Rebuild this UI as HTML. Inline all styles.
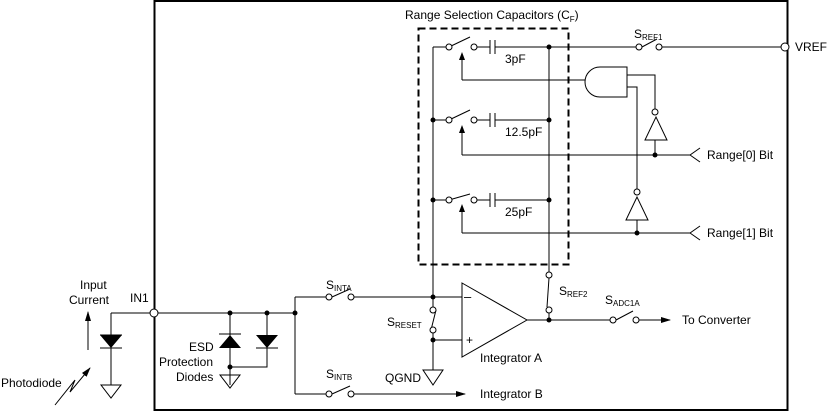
<!DOCTYPE html>
<html><head><meta charset="utf-8"><style>
body{margin:0;background:#fff}
svg{display:block}
text{font-family:"Liberation Sans",Arial,sans-serif;font-size:12px;fill:#000}
.s{font-size:8px}
</style></head><body>
<svg width="829" height="413" viewBox="0 0 829 413" xmlns="http://www.w3.org/2000/svg">
<defs><marker id="ar" markerWidth="10" markerHeight="8" refX="9" refY="4" orient="auto" markerUnits="userSpaceOnUse"><path d="M0,1 L10,4 L0,7 Z" fill="#000"/></marker></defs>
<g fill="none" stroke="#000">
<rect x="154.5" y="1" width="633" height="409" stroke-width="2"/>
<rect x="418.5" y="28.5" width="150" height="236" stroke-width="2" stroke-dasharray="7,4"/>
</g>
<g fill="none" stroke="#000" stroke-width="1">
<path d="M433,47 V297 M433,297 V310 M433,330 V370"/>
<path d="M549,47 V275 M549,310 V320"/>
<path d="M433,47 H446 M449,47 L470,37 M477,47 H490 M490,40 V54 M495,40 V54 M495,47 H549"/>
<path d="M433,120 H446 M449,120 L470,110 M477,120 H490 M490,113 V127 M495,113 V127 M495,120 H549"/>
<path d="M433,200 H446 M449,200 L470,194 M477,200 H490 M490,193 V207 M495,193 V207 M495,200 H549"/>
<path d="M462,80 V59 M462,80 H585"/>
<path d="M462,155 V132 M462,155 H690 L700,148 M690,155 L700,162"/>
<path d="M462,233 V211 M462,233 H690 L700,226 M690,233 L700,240"/>
<path d="M627,67 H600 A15,15 0 0 0 600,97 H627 Z"/>
<path d="M627,75 H655 V109 M627,87 H637 V189"/>
<path d="M655,140 V155 M637,220 V233"/>
<path d="M645,140 L667,140 L656,117 Z M626,220 L648,220 L637,197 Z"/>
<path d="M549,47 H636 M642,47 L657,39 M662,47 H781"/>
<path d="M111,313 H150 M158,313 H295 M111,313 V385 M230,313 V385 M267,313 V367 H230 M295,313 V297 M295,313 V394"/>
<path d="M100,335 H122 M219,334 H241 M256,348 H278 M100,348 H122"/>
<path d="M101,385 H121 L111,398 Z M220,375 H240 L230,388 Z M423,370 H443 L433,385 Z"/>
<path d="M295,297 H326 M332,297 L350,289 M354,297 H462"/>
<path d="M295,394 H326 M332,394 L350,386 M354,394 H465" marker-end="url(#ar)"/>
<path d="M436,310 L431,330 M433,340 H462 M433,330 V340"/>
<path d="M462,283 L527,320 L462,357 Z"/>
<path d="M527,320 H610 M549,278 L547,307 M616,320 L633,311 M639,320 H670" marker-end="url(#ar)"/>
<path d="M88,350 V312" marker-end="url(#ar)"/>
<path d="M55,405 L75,380 L70,392 L90,368" marker-end="url(#ar)"/>
</g>
<g fill="#000">
<circle cx="433" cy="120" r="2.5"/><circle cx="433" cy="200" r="2.5"/><circle cx="549" cy="47" r="2.5"/><circle cx="549" cy="120" r="2.5"/><circle cx="549" cy="200" r="2.5"/>
<circle cx="655" cy="155" r="2.5"/><circle cx="637" cy="233" r="2.5"/>
<circle cx="230" cy="313" r="2.5"/><circle cx="267" cy="313" r="2.5"/><circle cx="295" cy="313" r="2.5"/><circle cx="230" cy="367" r="2.5"/>
<circle cx="433" cy="297" r="2.5"/><circle cx="433" cy="340" r="2.5"/><circle cx="549" cy="320" r="2.5"/>
<path d="M100,335 H122 L111,348 Z M219,348 H241 L230,335 Z M256,335 H278 L267,348 Z"/>
<path d="M459,60 L462,52 L465,60 Z M459,133 L462,125 L465,133 Z M459,212 L462,204 L465,212 Z"/>
</g>
<g fill="#fff" stroke="#000" stroke-width="1">
<circle cx="449" cy="47" r="3"/><circle cx="474" cy="47" r="3"/>
<circle cx="449" cy="120" r="3"/><circle cx="474" cy="120" r="3"/>
<circle cx="449" cy="200" r="3"/><circle cx="474" cy="200" r="3"/>
<circle cx="655" cy="112" r="3"/><circle cx="637" cy="192" r="3"/>
<circle cx="639" cy="47" r="3"/><circle cx="659" cy="47" r="3"/><circle cx="785" cy="47" r="4"/>
<circle cx="154" cy="313" r="4"/>
<circle cx="329" cy="297" r="3"/><circle cx="351" cy="297" r="3"/>
<circle cx="329" cy="394" r="3"/><circle cx="351" cy="394" r="3"/>
<circle cx="433" cy="310" r="3"/><circle cx="433" cy="330" r="3"/>
<circle cx="549" cy="275" r="3"/><circle cx="549" cy="310" r="3"/>
<circle cx="613" cy="320" r="3"/><circle cx="636" cy="320" r="3"/>
</g>
<text x="405" y="19">Range Selection Capacitors (C<tspan class="s" dy="3">F</tspan><tspan dy="-3">)</tspan></text>
<text x="505" y="63">3pF</text><text x="505" y="136">12.5pF</text><text x="505" y="216">25pF</text>
<text x="634" y="38">S<tspan class="s" dy="2">REF1</tspan></text>
<text x="795" y="51">VREF</text>
<text x="707" y="159">Range[0] Bit</text><text x="707" y="237">Range[1] Bit</text>
<text x="80" y="289">Input</text><text x="69" y="304">Current</text><text x="130" y="302">IN1</text>
<text x="1" y="387">Photodiode</text>
<text x="189" y="351">ESD</text><text x="159" y="366">Protection</text><text x="176" y="381">Diodes</text>
<text x="326" y="289">S<tspan class="s" dy="2">INTA</tspan></text>
<text x="326" y="378">S<tspan class="s" dy="2">INTB</tspan></text>
<text x="387" y="326">S<tspan class="s" dy="2">RESET</tspan></text>
<text x="385" y="382">QGND</text>
<text x="559" y="295">S<tspan class="s" dy="2">REF2</tspan></text>
<text x="605" y="304">S<tspan class="s" dy="2">ADC1A</tspan></text>
<text x="682" y="324">To Converter</text>
<text x="480" y="362">Integrator A</text>
<text x="480" y="398">Integrator B</text>
<text x="464" y="301" style="font-size:13px">–</text><text x="466" y="344" style="font-size:12px">+</text>
</svg>
</body></html>
